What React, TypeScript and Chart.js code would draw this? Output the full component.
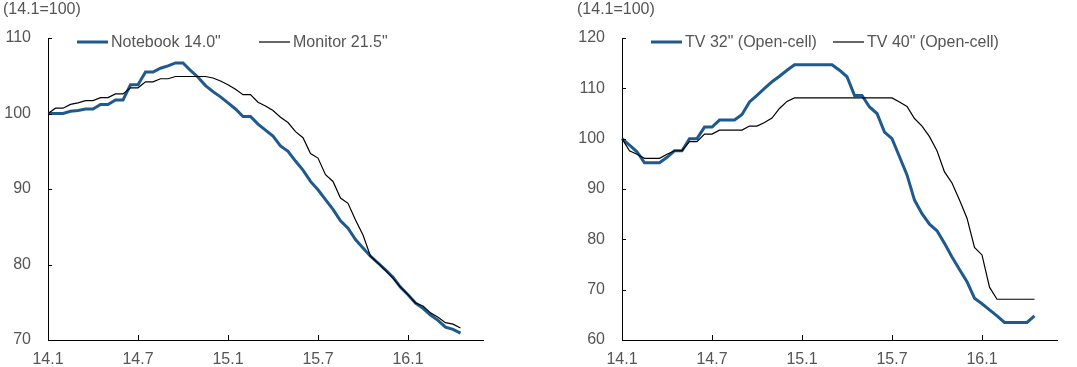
import React, { useEffect, useRef } from "react";
import { Chart, registerables } from "chart.js";

Chart.register(...registerables);

// Half-monthly periods (category axis), 14.1 .. 16.6
const periods: string[] = [
  "14.1", "14.1b", "14.2", "14.2b", "14.3", "14.3b", "14.4", "14.4b", "14.5", "14.5b", "14.6", "14.6b",
  "14.7", "14.7b", "14.8", "14.8b", "14.9", "14.9b", "14.10", "14.10b", "14.11", "14.11b", "14.12", "14.12b",
  "15.1", "15.1b", "15.2", "15.2b", "15.3", "15.3b", "15.4", "15.4b", "15.5", "15.5b", "15.6", "15.6b",
  "15.7", "15.7b", "15.8", "15.8b", "15.9", "15.9b", "15.10", "15.10b", "15.11", "15.11b", "15.12", "15.12b",
  "16.1", "16.1b", "16.2", "16.2b", "16.3", "16.3b", "16.4", "16.4b", "16.5", "16.5b", "16.6",
];

const tickLabels: string[] = ["14.1", "14.7", "15.1", "15.7", "16.1"];

const baseNote = "(14.1=100)";

const notebook: number[] = [
  100, 100, 100, 100.3, 100.4, 100.6, 100.6, 101.2, 101.2, 101.8, 101.8, 103.8,
  103.8, 105.5, 105.5, 106.0, 106.3, 106.7, 106.7, 105.7, 104.8, 103.7, 102.9, 102.2,
  101.4, 100.6, 99.6, 99.6, 98.6, 97.8, 97.0, 95.7, 95.0, 93.7, 92.5, 91.0,
  89.9, 88.6, 87.3, 85.8, 84.8, 83.3, 82.2, 81.1, 80.2, 79.3, 78.3, 77.0,
  76.0, 74.9, 74.2, 73.3, 72.6, 71.7, 71.4, 70.9,
];

const monitor: number[] = [
  100, 100.7, 100.7, 101.2, 101.4, 101.7, 101.7, 102.1, 102.1, 102.6, 102.6, 103.4,
  103.4, 104.2, 104.2, 104.6, 104.6, 104.9, 104.9, 104.9, 104.9, 104.9, 104.7, 104.3,
  103.8, 103.2, 102.5, 102.5, 101.5, 101.0, 100.4, 99.5, 98.8, 97.6, 96.8, 94.7,
  94.1, 91.9, 91.0, 88.8, 88.1, 85.9, 83.9, 81.1, 80.2, 79.2, 78.2, 77.0,
  76.0, 74.9, 74.5, 73.6, 73.0, 72.3, 72.1, 71.6,
];

const tv32: number[] = [
  100, 98.7, 97.4, 95.2, 95.2, 95.2, 96.3, 97.6, 97.6, 100.0, 100.0, 102.3,
  102.3, 103.7, 103.7, 103.7, 104.8, 107.3, 108.6, 110.0, 111.3, 112.4, 113.6, 114.7,
  114.7, 114.7, 114.7, 114.7, 114.7, 113.6, 112.3, 108.6, 108.6, 106.3, 105.0, 101.3,
  100.0, 96.4, 92.8, 87.8, 85.1, 83.0, 81.7, 79.2, 76.5, 74.0, 71.6, 68.3,
  67.2, 66.0, 64.8, 63.5, 63.5, 63.5, 63.5, 64.8,
];

const tv40: number[] = [
  100, 97.6, 96.9, 96.1, 96.1, 96.1, 96.9, 97.6, 97.6, 99.4, 99.4, 100.9,
  100.9, 101.7, 101.7, 101.7, 101.7, 102.5, 102.5, 103.2, 104.1, 106.0, 107.4, 108.1,
  108.1, 108.1, 108.1, 108.1, 108.1, 108.1, 108.1, 108.1, 108.1, 108.1, 108.1, 108.1,
  108.1, 107.3, 106.4, 104.0, 102.5, 100.4, 97.6, 93.4, 91.2, 87.8, 84.2, 78.4,
  76.9, 70.5, 68.1, 68.1, 68.1, 68.1, 68.1, 68.1,
];

const BLUE = "#1F5A8E";
const BLACK = "#000000";
const TEXT = "#555555";
const FONT_FAMILY = "'Liberation Sans', Arial, sans-serif";
const FONT_SIZE = 16;

type Series = { name: string; values: number[]; color: string; width: number; order: number };

function LineChart(props: { left: number; series: Series[]; yMin: number; yMax: number }) {
  const ref = useRef<HTMLCanvasElement>(null);
  useEffect(() => {
    const canvas = ref.current!;
    const decor = {
      id: "decor",
      afterDraw(chart: any) {
        const ctx = chart.ctx as CanvasRenderingContext2D;
        const area = chart.chartArea;
        const xs = chart.scales.x;
        const ys = chart.scales.y;
        ctx.save();
        // inner tick marks
        ctx.strokeStyle = "#000";
        ctx.lineWidth = 1;
        ctx.beginPath();
        ys.ticks.forEach((t: any) => {
          const y = Math.round(ys.getPixelForValue(t.value)) + 0.5;
          ctx.moveTo(area.left, y);
          ctx.lineTo(area.left + 4, y);
        });
        tickLabels.forEach((l) => {
          const x = Math.round(xs.getPixelForValue(periods.indexOf(l))) + 0.5;
          ctx.moveTo(x, area.bottom);
          ctx.lineTo(x, area.bottom - 5);
        });
        ctx.stroke();
        // base note
        ctx.font = `${FONT_SIZE}px ${FONT_FAMILY}`;
        ctx.fillStyle = TEXT;
        ctx.textBaseline = "middle";
        ctx.textAlign = "left";
        ctx.fillText(baseNote, 3, 10);
        // legend
        props.series.forEach((s, i) => {
          const x0 = area.left + 29 + i * 182;
          const y = 42;
          ctx.strokeStyle = s.color;
          ctx.lineWidth = s.width;
          ctx.beginPath();
          ctx.moveTo(x0, y);
          ctx.lineTo(x0 + 31, y);
          ctx.stroke();
          ctx.fillStyle = TEXT;
          ctx.fillText(s.name, x0 + 34, y + 1);
        });
        ctx.restore();
      },
    };
    const font = { family: FONT_FAMILY, size: FONT_SIZE };
    const chart = new Chart(canvas, {
      type: "line",
      data: {
        labels: periods,
        datasets: props.series.map((s) => ({
          label: s.name,
          data: s.values,
          borderColor: s.color,
          backgroundColor: s.color,
          borderWidth: s.width,
          pointRadius: 0,
          tension: 0,
          fill: false,
          order: s.order,
        })),
      },
      options: {
        responsive: false,
        animation: false,
        layout: { padding: { top: 38, right: 20, bottom: 0, left: 0 } },
        plugins: { legend: { display: false }, tooltip: { enabled: false } },
        scales: {
          x: {
            grid: { display: false, drawTicks: false },
            border: { display: true, color: "#000", width: 1 },
            ticks: {
              autoSkip: false,
              maxRotation: 0,
              minRotation: 0,
              padding: 10,
              color: TEXT,
              font,
              callback: (_v: any, i: number) => (tickLabels.includes(periods[i]) ? periods[i] : ""),
            },
            afterFit: (s: any) => {
              s.height = 27;
            },
          },
          y: {
            min: props.yMin,
            max: props.yMax,
            grid: { display: false, drawTicks: false },
            border: { display: true, color: "#000", width: 1 },
            ticks: { stepSize: 10, padding: 17, color: TEXT, font },
            afterFit: (s: any) => {
              s.width = 48;
            },
          },
        },
      } as any,
      plugins: [decor],
    });
    return () => chart.destroy();
  }, []);
  return (
    <canvas
      ref={ref}
      width={503}
      height={367}
      style={{ position: "absolute", left: props.left, top: 0, width: 503, height: 367 }}
    />
  );
}

export default function App() {
  return (
    <div style={{ position: "absolute", left: 0, top: 0, width: 1077, height: 367, background: "#fff" }}>
      <LineChart
        left={0}
        yMin={70}
        yMax={110}
        series={[
          { name: 'Notebook 14.0"', values: notebook, color: BLUE, width: 3, order: 1 },
          { name: 'Monitor 21.5"', values: monitor, color: BLACK, width: 1.2, order: 0 },
        ]}
      />
      <LineChart
        left={574}
        yMin={60}
        yMax={120}
        series={[
          { name: 'TV 32" (Open-cell)', values: tv32, color: BLUE, width: 3, order: 1 },
          { name: 'TV 40" (Open-cell)', values: tv40, color: BLACK, width: 1.2, order: 0 },
        ]}
      />
    </div>
  );
}
